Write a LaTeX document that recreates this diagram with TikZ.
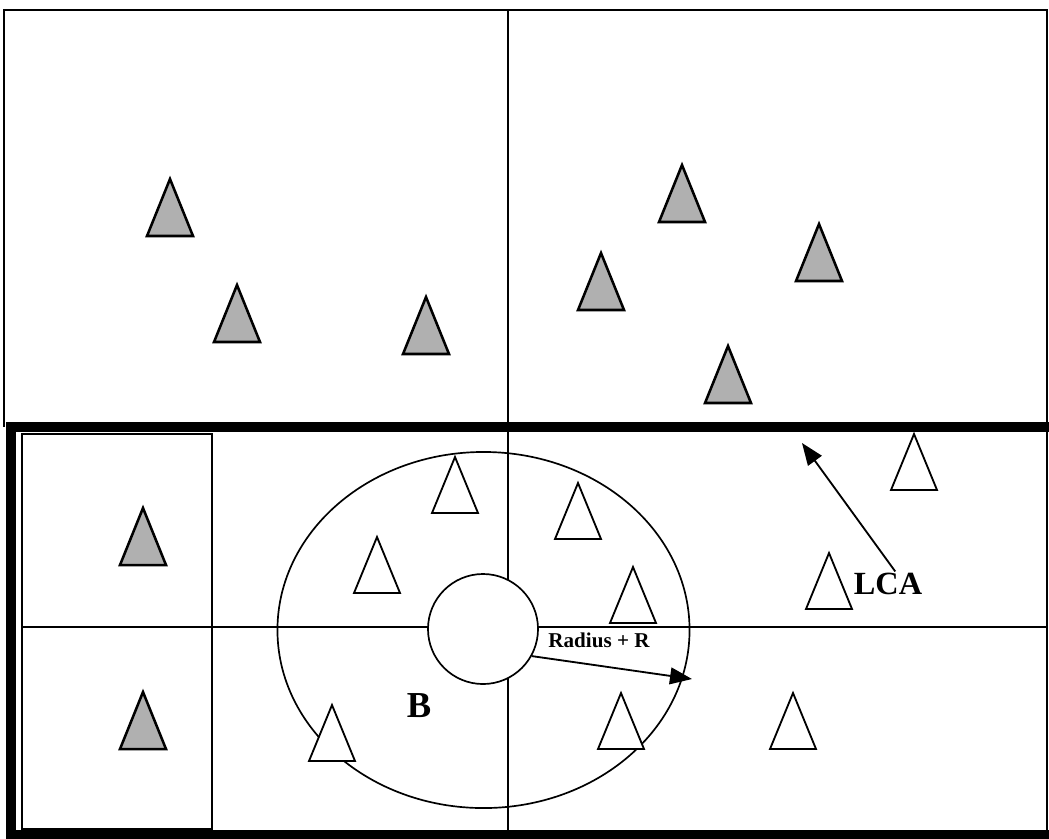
\documentclass[tikz,border=0pt]{standalone}
\usepackage{fontspec}
\setmainfont{Liberation Serif}
\usetikzlibrary{shapes.geometric,arrows.meta}

\begin{document}
\begin{tikzpicture}[x=0.025cm, y=-0.025cm,
  rule/.style={black, line width=1.2pt},
  edge/.style={black, line width=7.5pt},
  site/.style={draw=black, line width=1.8pt, line join=miter},
  hub/.style={site, fill=gray!62},
  leaf/.style={site, line width=1.3pt, fill=white},
  arr/.style={-{Triangle[length=5.5mm,width=4.2mm]}, line width=1.3pt},
  tag/.style={font=\bfseries\fontsize{23}{23}\selectfont, inner sep=1pt}]
\useasboundingbox (0,0) rectangle (1049,838);
% cell lines
\draw[rule] (4,427) -- (4,10) -- (1047,10) -- (1047,835);
\draw[rule] (508,10) -- (508,835);
\draw[rule] (22,627) -- (1047,627);
\draw[rule] (22,434) rectangle (212,829);
\draw[edge] (1049,427) -- (11,427) -- (11,835) -- (1049,835);
% search zone
\node[draw, ellipse, line width=1.2pt, minimum width=10.3cm, minimum height=8.9cm, inner sep=0] (zone) at (483.5,630) {};
\node[draw, circle, fill=white, line width=1.2pt, minimum size=2.75cm, inner sep=0] (core) at (483,629) {};
% sites
\foreach \x/\y in {170/179,237/285,426/297,682/165,819/224,601/253,728/346,143/508,143/692}
  \draw[hub] (\x,\y) -- ++(-23,57) -- ++(46,0) -- cycle;
\foreach \x/\y in {455/457,578/483,377/537,633/567,332/705,621/693,914/434,829/553,793/693}
  \draw[leaf] (\x,\y) -- ++(-23,56) -- ++(46,0) -- cycle;
% labels
\node[font=\bfseries\fontsize{15}{15}\selectfont, inner sep=1pt] (rlabel) at (599,640) {Radius + R};
\node[tag, font=\bfseries\fontsize{26}{26}\selectfont] (blabel) at (419,706) {B};
\node[tag] (lca) at (888,584) {LCA};
\coordinate (rtip) at (692,679);
\coordinate (lcatip) at (802,443);
\draw[arr] (core.-29) -- (rtip);
\draw[arr] (lca.60) -- (lcatip);
\end{tikzpicture}
\end{document}
